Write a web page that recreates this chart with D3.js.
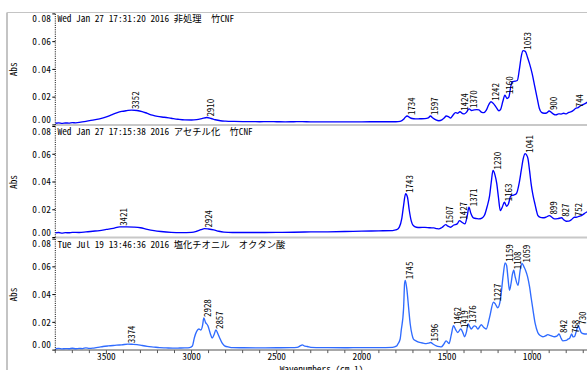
<!DOCTYPE html>
<html><head><meta charset="utf-8">
<script src="https://cdn.jsdelivr.net/npm/d3@7/dist/d3.min.js"></script>
<style>html,body{margin:0;padding:0;background:#fff;overflow:hidden}</style>
</head><body>
<svg id="chart" width="587" height="370"></svg>
<script>
// ---------- DATA ----------
const titles = [
  "Wed Jan 27 17:31:20 2016 非処理　竹CNF",
  "Wed Jan 27 17:15:38 2016 アセチル化　竹CNF",
  "Tue Jul 19 13:46:36 2016 塩化チオニル　オクタン酸"
];
const yTicks = [0, 0.02, 0.04, 0.06, 0.08];
const yTickLabels = ["0.00", "0.02", "0.04", "0.06", "0.08"];
const xTicks = [3500, 3000, 2500, 2000, 1500, 1000];
const xLabel = "Wavenumbers (cm-1)";
const yLabel = "Abs";

const wn1 = [3800,3780,3760,3740,3720,3700,3680,3650,3620,3580,3540,3500,3470,3440,3410,3380,3352,3320,3290,3260,3230,3200,3160,3120,3080,3040,3000,2970,2940,2910,2885,2860,2830,2800,2750,2700,2650,2600,2550,2500,2450,2400,2350,2300,2200,2100,2000,1900,1800,1775,1755,1745,1734,1720,1705,1685,1660,1630,1610,1597,1585,1565,1548,1530,1515,1505,1492,1479,1465,1450,1438,1424,1408,1398,1385,1370,1355,1340,1325,1313,1295,1284,1270,1255,1242,1228,1210,1195,1185,1172,1160,1148,1137,1125,1117,1100,1087,1075,1063,1053,1040,1028,1015,1000,985,970,958,945,930,915,900,888,875,860,845,830,815,800,785,770,755,744,730,715,700,690,675];
const abs1 = [0.0012,0.0015,0.0011,0.0014,0.0013,0.0016,0.0015,0.0020,0.0026,0.0034,0.0044,0.0058,0.0072,0.0086,0.0097,0.0103,0.0107,0.0104,0.0096,0.0083,0.0070,0.0061,0.0055,0.0048,0.0041,0.0036,0.0035,0.0038,0.0045,0.0053,0.0046,0.0037,0.0030,0.0027,0.0025,0.0024,0.0024,0.0023,0.0024,0.0023,0.0022,0.0023,0.0024,0.0022,0.0022,0.0022,0.0022,0.0023,0.0023,0.0026,0.0040,0.0055,0.0064,0.0054,0.0046,0.0043,0.0044,0.0045,0.0050,0.0064,0.0052,0.0036,0.0030,0.0036,0.0052,0.0064,0.0060,0.0050,0.0070,0.0088,0.0084,0.0095,0.0082,0.0079,0.0092,0.0115,0.0104,0.0108,0.0110,0.0108,0.0090,0.0088,0.0105,0.0145,0.0167,0.0155,0.0125,0.0102,0.0112,0.0170,0.0215,0.0190,0.0200,0.0280,0.0311,0.0315,0.0320,0.0400,0.0500,0.0535,0.0530,0.0490,0.0440,0.0370,0.0280,0.0190,0.0120,0.0090,0.0084,0.0086,0.0100,0.0090,0.0078,0.0072,0.0080,0.0078,0.0084,0.0080,0.0090,0.0095,0.0108,0.0120,0.0125,0.0138,0.0148,0.0153,0.0165];
const peaks1 = [3352,2910,1734,1597,1424,1370,1242,1160,1053,900,744];

const wn2 = [3800,3780,3760,3740,3720,3700,3660,3620,3580,3540,3500,3460,3421,3380,3340,3300,3260,3220,3180,3120,3060,3000,2970,2945,2924,2900,2870,2840,2810,2760,2700,2600,2500,2400,2300,2200,2100,2000,1900,1820,1795,1780,1765,1755,1743,1732,1722,1710,1698,1680,1660,1630,1600,1577,1560,1548,1530,1507,1495,1479,1460,1440,1427,1410,1395,1382,1371,1360,1345,1325,1313,1295,1280,1265,1250,1240,1230,1218,1208,1198,1187,1175,1163,1150,1140,1125,1110,1093,1075,1064,1052,1041,1033,1025,1015,1006,996,986,976,967,952,937,920,899,884,869,850,827,815,800,785,770,752,741,726,711,696,682,675];
const abs2 = [0.0033,0.0036,0.0032,0.0035,0.0034,0.0037,0.0036,0.0040,0.0045,0.0050,0.0058,0.0066,0.0077,0.0077,0.0075,0.0070,0.0058,0.0049,0.0043,0.0037,0.0035,0.0037,0.0045,0.0056,0.0064,0.0061,0.0055,0.0045,0.0039,0.0036,0.0036,0.0036,0.0037,0.0038,0.0040,0.0041,0.0043,0.0046,0.0048,0.0050,0.0056,0.0075,0.0140,0.0230,0.0315,0.0290,0.0200,0.0120,0.0086,0.0074,0.0072,0.0073,0.0070,0.0069,0.0064,0.0062,0.0072,0.0093,0.0082,0.0074,0.0090,0.0098,0.0122,0.0108,0.0098,0.0150,0.0218,0.0175,0.0142,0.0136,0.0134,0.0140,0.0160,0.0220,0.0300,0.0400,0.0483,0.0450,0.0390,0.0290,0.0194,0.0220,0.0254,0.0225,0.0240,0.0300,0.0305,0.0315,0.0400,0.0483,0.0570,0.0604,0.0595,0.0570,0.0480,0.0387,0.0310,0.0254,0.0200,0.0160,0.0145,0.0142,0.0146,0.0158,0.0146,0.0134,0.0136,0.0142,0.0128,0.0117,0.0118,0.0128,0.0146,0.0146,0.0152,0.0158,0.0170,0.0182,0.0185];
const peaks2 = [3421,2924,1743,1507,1427,1371,1230,1163,1041,899,827,752];

const wn3 = [3800,3780,3760,3740,3720,3700,3680,3660,3640,3620,3600,3580,3560,3540,3520,3490,3460,3440,3410,3374,3350,3320,3290,3260,3220,3188,3150,3110,3070,3040,3012,2995,2983,2970,2957,2945,2935,2928,2918,2904,2890,2879,2868,2857,2846,2836,2820,2806,2780,2758,2700,2600,2500,2420,2380,2360,2350,2335,2320,2300,2200,2100,2000,1900,1820,1795,1789,1775,1769,1755,1749,1745,1735,1725,1716,1705,1697,1680,1661,1640,1622,1608,1596,1580,1563,1545,1534,1520,1505,1488,1475,1462,1450,1437,1419,1405,1397,1386,1376,1365,1358,1340,1330,1319,1299,1285,1270,1250,1227,1215,1202,1190,1182,1170,1159,1150,1142,1133,1124,1116,1108,1100,1083,1071,1059,1048,1039,1027,1015,1005,996,982,967,952,937,922,908,890,869,855,842,830,820,800,790,780,768,760,750,740,730,720,712,698,682,675];
const abs3 = [0.0010,0.0012,0.0009,0.0011,0.0010,0.0013,0.0010,0.0012,0.0011,0.0016,0.0012,0.0014,0.0018,0.0022,0.0026,0.0030,0.0033,0.0036,0.0038,0.0043,0.0042,0.0040,0.0033,0.0027,0.0022,0.0018,0.0016,0.0014,0.0015,0.0016,0.0018,0.0030,0.0091,0.0135,0.0152,0.0145,0.0180,0.0232,0.0200,0.0176,0.0120,0.0087,0.0110,0.0145,0.0120,0.0091,0.0050,0.0031,0.0022,0.0018,0.0017,0.0016,0.0017,0.0018,0.0020,0.0032,0.0038,0.0028,0.0026,0.0020,0.0018,0.0017,0.0018,0.0018,0.0020,0.0030,0.0043,0.0080,0.0140,0.0300,0.0479,0.0503,0.0431,0.0300,0.0188,0.0110,0.0079,0.0065,0.0055,0.0050,0.0047,0.0050,0.0055,0.0042,0.0031,0.0025,0.0023,0.0040,0.0067,0.0047,0.0110,0.0176,0.0150,0.0127,0.0152,0.0120,0.0096,0.0130,0.0188,0.0165,0.0152,0.0175,0.0170,0.0152,0.0183,0.0165,0.0152,0.0236,0.0345,0.0330,0.0305,0.0340,0.0407,0.0540,0.0629,0.0610,0.0520,0.0431,0.0480,0.0545,0.0576,0.0530,0.0467,0.0570,0.0625,0.0600,0.0576,0.0530,0.0455,0.0370,0.0297,0.0190,0.0127,0.0105,0.0096,0.0102,0.0111,0.0104,0.0096,0.0100,0.0116,0.0085,0.0067,0.0070,0.0079,0.0085,0.0116,0.0095,0.0100,0.0140,0.0176,0.0150,0.0127,0.0118,0.0116,0.0118];
const peaks3 = [3374,2928,2857,1745,1596,1462,1419,1376,1227,1159,1108,1059,842,768,730];

const seriesColors = ["#0000ff", "#0000ff", "#2f6bff"];

// ---------- LAYOUT ----------
const FONT = "'Noto Sans Mono CJK JP','Noto Sans CJK JP','DejaVu Sans Mono',monospace";
const svg = d3.select("#chart");
const X0 = 55.3, X1 = 587.5;
const panelTops = [13.9, 126.5, 239.1];
const PH = 111;

const x = d3.scaleLinear().domain([3800, 675]).range([X0, X1]);

const panels = [
  {wn: wn1, ab: abs1, peaks: peaks1},
  {wn: wn2, ab: abs2, peaks: peaks2},
  {wn: wn3, ab: abs3, peaks: peaks3}
];

// outer frame
svg.append("line").attr("x1", 7).attr("x2", 7).attr("y1", 12.5).attr("y2", 370)
  .attr("stroke", "#c4c4c4").attr("stroke-width", 2);
svg.append("line").attr("x1", 7).attr("x2", 587).attr("y1", 12.5).attr("y2", 12.5)
  .attr("stroke", "#c4c4c4").attr("stroke-width", 1.2);

function valueAt(wn, ab, w) {
  for (let i = 0; i < wn.length - 1; i++) {
    if (wn[i] >= w && wn[i + 1] <= w) {
      const t = (wn[i] - w) / (wn[i] - wn[i + 1]);
      return ab[i] + t * (ab[i + 1] - ab[i]);
    }
  }
  return ab[ab.length - 1];
}

svg.append("defs").append("clipPath").attr("id", "clipAll")
  .append("rect").attr("x", X0).attr("y", 0).attr("width", X1 - X0).attr("height", 370);

panels.forEach((p, i) => {
  const top = panelTops[i], bot = top + PH;
  const y = d3.scaleLinear().domain([0, 0.08]).range([bot, top]);
  const g = svg.append("g");

  // bottom line of panel
  if (i < 2) {
    g.append("line").attr("x1", X0).attr("x2", 587).attr("y1", bot).attr("y2", bot)
      .attr("stroke", "#c8c8c8").attr("stroke-width", 2);
  } else {
    const xa = g.append("g").attr("transform", `translate(0,${bot})`);
    xa.append("line").attr("x1", X0).attr("x2", 587).attr("y1", 0).attr("y2", 0)
      .attr("stroke", "#a8a8a8").attr("stroke-width", 2);
    d3.range(3800, 600, -100).forEach(t => {
      const major = t % 500 === 0;
      xa.append("line").attr("x1", x(t)).attr("x2", x(t)).attr("y1", 0).attr("y2", major ? 4 : 3)
        .attr("stroke", "#555").attr("stroke-width", 1);
    });
    xTicks.forEach(t => {
      xa.append("text").attr("x", x(t)).attr("y", 9.5).attr("text-anchor", "middle")
        .attr("font-family", FONT).attr("font-size", 9.3).attr("fill", "#000").text(String(t));
    });
    svg.append("text").attr("x", 321.5).attr("y", 372.5).attr("text-anchor", "middle")
      .attr("font-family", FONT).attr("font-size", 9.3).attr("fill", "#000").text(xLabel);
  }

  // y axis (dotted)
  g.append("line").attr("x1", X0).attr("x2", X0).attr("y1", top).attr("y2", bot)
    .attr("stroke", "#000").attr("stroke-width", 1).attr("stroke-dasharray", "1,1.2");
  yTicks.forEach((t, k) => {
    const ty = y(t);
    g.append("line").attr("x1", X0 - 3).attr("x2", X0).attr("y1", ty).attr("y2", ty)
      .attr("stroke", "#000").attr("stroke-width", 1);
    const ly = Math.min(Math.max(ty, top + 4.8), bot - 5);
    g.append("text").attr("x", X0 - 4.5).attr("y", ly + 3.3).attr("text-anchor", "end")
      .attr("font-family", FONT).attr("font-size", 9.3).attr("fill", "#000").text(yTickLabels[k]);
  });

  // Abs label
  g.append("text").attr("transform", `translate(16.6,${(top + bot) / 2}) rotate(-90)`)
    .attr("text-anchor", "middle").attr("font-family", FONT).attr("font-size", 9.3)
    .attr("fill", "#000").text(yLabel);

  // spectrum
  const pts = p.wn.map((w, k) => [w, p.ab[k]]);
  const line = d3.line().x(d => x(d[0])).y(d => y(d[1])).curve(d3.curveMonotoneX);
  g.append("path").attr("clip-path", "url(#clipAll)").attr("d", line(pts))
    .attr("fill", "none").attr("stroke", seriesColors[i]).attr("stroke-width", 1.35)
    .attr("stroke-linejoin", "round");

  // title
  g.append("text").attr("x", 57.5).attr("y", top + 8.4)
    .attr("font-family", FONT).attr("font-size", 9.3).attr("fill", "#000")
    .text(titles[i]);

  // peak labels
  p.peaks.forEach(w => {
    const v = valueAt(p.wn, p.ab, w);
    const px = x(w), py = y(v);
    g.append("text").attr("transform", `translate(${px + 7.6},${py - 1}) rotate(-90)`)
      .attr("font-family", FONT).attr("font-size", 8.8).attr("fill", "#000")
      .text(String(w));
  });
});
</script>
</body></html>
